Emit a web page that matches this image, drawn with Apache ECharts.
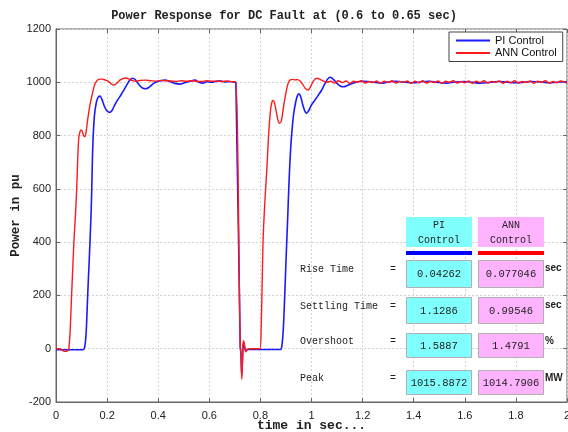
<!DOCTYPE html>
<html>
<head>
<meta charset="utf-8">
<script src="https://cdn.jsdelivr.net/npm/echarts@6/dist/echarts.min.js"></script>
<style>html,body{margin:0;padding:0;background:#fff;}#c{width:568px;height:432px;}</style>
</head>
<body>
<div id="c"></div>
<script>
// ---- data ----
var piTime = [0,0.02,0.05,0.08,0.105,0.112,0.118,0.124,0.129,0.133,0.137,0.14,0.144,0.15,0.158,0.166,0.172,0.18,0.19,0.2,0.211,0.22,0.23,0.24,0.25,0.26,0.27,0.28,0.29,0.3,0.31,0.32,0.33,0.34,0.352,0.365,0.38,0.394,0.41,0.427,0.445,0.465,0.485,0.505,0.525,0.544,0.56,0.575,0.59,0.61,0.625,0.64,0.66,0.68,0.7,0.704,0.721,0.724,0.727,0.73,0.733,0.737,0.743,0.75,0.78,0.82,0.85,0.878,0.884,0.89,0.896,0.901,0.906,0.911,0.916,0.922,0.93,0.938,0.945,0.951,0.958,0.966,0.974,0.981,0.99,1.0,1.014,1.027,1.04,1.05,1.06,1.072,1.085,1.1,1.112,1.125,1.14,1.152,1.164,1.18,1.2,1.22,1.25,1.28,1.3,1.33,1.36,1.4,1.43,1.46,1.5,1.53,1.56,1.6,1.63,1.66,1.7,1.73,1.76,1.8,1.83,1.86,1.9,1.93,1.96,2.0];
var piPower = [-4,-4,-4,-4,-4,5,60,200,310,400,500,600,760,870,925,945,948,935,908,892,887,895,915,932,946,962,978,995,1010,1015,1010,997,985,978,976,982,994,1002,1006,1008,1003,996,993,999,1004,1008,1000,997,1002,1000,1003,1006,1001,1003,1000,999,10,-20,-100,-40,20,10,-8,-3,-3,-3,-3,-3,10,80,220,350,470,600,709,800,880,925,950,957,945,915,892,884,895,915,934,952,971,990,1008,1019,1012,996,986,983,988,993,997,1002,1004,1003,999,997,1001,1004,1001,998,1002,1004,999,997,1001,1003,1000,997,1000,1003,1001,998,1000,1003,1001,998,1000,1002];

var annTime = [0,0.015,0.025,0.035,0.045,0.05,0.055,0.061,0.066,0.07,0.076,0.081,0.085,0.089,0.094,0.098,0.103,0.108,0.113,0.118,0.124,0.133,0.143,0.153,0.162,0.172,0.182,0.193,0.204,0.215,0.223,0.231,0.24,0.25,0.262,0.274,0.286,0.3,0.315,0.33,0.35,0.37,0.39,0.41,0.43,0.45,0.47,0.49,0.51,0.53,0.55,0.57,0.59,0.61,0.63,0.65,0.67,0.69,0.703,0.721,0.724,0.727,0.73,0.733,0.736,0.739,0.743,0.748,0.76,0.78,0.798,0.803,0.807,0.811,0.818,0.825,0.832,0.839,0.845,0.85,0.856,0.862,0.868,0.875,0.882,0.89,0.9,0.908,0.916,0.925,0.935,0.945,0.955,0.965,0.975,0.987,0.997,1.008,1.02,1.032,1.045,1.06,1.075,1.09,1.105,1.12,1.135,1.15,1.165,1.18,1.195,1.21,1.225,1.24,1.255,1.27,1.285,1.3,1.315,1.33,1.345,1.36,1.375,1.39,1.405,1.42,1.435,1.45,1.465,1.48,1.495,1.51,1.525,1.54,1.555,1.57,1.585,1.6,1.615,1.63,1.645,1.66,1.675,1.69,1.705,1.72,1.735,1.75,1.765,1.78,1.795,1.81,1.825,1.84,1.855,1.87,1.885,1.9,1.915,1.93,1.945,1.96,1.975,2.0];
var annPower = [0,0,-6,-10,-8,0,60,200,310,400,500,600,710,790,815,821,815,800,796,815,860,915,960,996,1008,1012,1012,1008,1004,995,990,991,998,1008,1014,1016,1012,1006,1004,1007,1008,1006,1004,1007,1006,1005,1003,1006,1004,1006,1004,1003,1006,1004,1005,1003,1005,1002,1002,10,-20,-115,-40,30,25,5,-12,-2,0,0,0,80,250,421,560,671,800,890,925,932,920,890,860,846,855,905,960,995,1009,1011,1009,1010,1005,993,978,971,985,1005,1015,1012,1005,1000,1004,997,1006,999,1005,996,1004,1000,1006,997,1003,999,1005,996,1004,999,1006,997,1003,1000,1005,996,1004,998,1006,997,1003,999,1005,996,1004,1000,1006,997,1003,998,1005,996,1004,999,1006,997,1003,1000,1005,996,1004,998,1006,997,1003,999,1005,996,1004,1000,1006,997,1003,998,1005,997,1002];

var xTicks = {min: 0, max: 2, step: 0.2};
var yTicks = {min: -200, max: 1200, step: 200};

var tableRows = ['Rise Time', 'Settling Time', 'Overshoot', 'Peak'];
var piValues = ['0.04262', '1.1286', '1.5887', '1015.8872'];
var annValues = ['0.077046', '0.99546', '1.4791', '1014.7906'];
var units = ['sec', 'sec', '%', 'MW'];
var headers = ['PI\nControl', 'ANN\nControl'];
var seriesNames = ['PI Control', 'ANN Control'];

function zip(a, b) { return a.map(function (v, i) { return [v, b[i]]; }); }

// ---- table graphic ----
var mono = '"Liberation Mono", "Courier New", monospace';
var colPI = {x: 406, w: 66, fill: '#80ffff'};
var colANN = {x: 478, w: 66, fill: '#ffb3ff'};
var rowBoxes = [{y: 260, h: 27}, {y: 297, h: 26}, {y: 333, h: 24}, {y: 370, h: 24}];
var g = [];
[colPI, colANN].forEach(function (c, i) {
  g.push({type: 'rect', z: 100, shape: {x: c.x, y: 217, width: c.w, height: 30}, style: {fill: c.fill}});
  g.push({type: 'text', z: 101, x: c.x + c.w / 2, y: 232.5, style: {text: headers[i], font: '10px ' + mono, fill: '#222', align: 'center', verticalAlign: 'middle', lineHeight: 15}});
  g.push({type: 'rect', z: 100, shape: {x: c.x, y: 251, width: c.w, height: 4}, style: {fill: i === 0 ? '#0000ff' : '#ff0000'}});
});
rowBoxes.forEach(function (r, k) {
  [colPI, colANN].forEach(function (c, i) {
    g.push({type: 'rect', z: 100, shape: {x: c.x + 0.5, y: r.y + 0.5, width: c.w - 1, height: r.h}, style: {fill: c.fill, stroke: '#b0b0b0', lineWidth: 1}});
    g.push({type: 'text', z: 101, x: c.x + c.w / 2, y: r.y + r.h / 2 + 1, style: {text: (i === 0 ? piValues : annValues)[k], font: '10.5px ' + mono, fill: '#222', align: 'center', verticalAlign: 'middle'}});
  });
  var cy = r.y + r.h / 2 - 4;
  g.push({type: 'text', z: 101, x: 300, y: cy, style: {text: tableRows[k], font: '10px ' + mono, fill: '#222', align: 'left', verticalAlign: 'middle'}});
  g.push({type: 'text', z: 101, x: 393, y: cy, style: {text: '=', font: '10px ' + mono, fill: '#222', align: 'center', verticalAlign: 'middle'}});
  g.push({type: 'text', z: 101, x: 545, y: r.y + 8, style: {text: units[k], font: 'bold 10px "Liberation Sans", Arial, sans-serif', fill: '#222', align: 'left', verticalAlign: 'middle'}});
});

var chart = echarts.init(document.getElementById('c'), null, {renderer: 'canvas'});
var axisTextStyle = {color: '#222', fontSize: 11, fontFamily: '"Liberation Sans", Arial, sans-serif'};
var plain = function (v) { return String(Math.round(v * 100) / 100); };
var option = {
  backgroundColor: '#fff',
  animation: false,
  title: {
    text: 'Power Response for DC Fault at (0.6 to 0.65 sec)',
    left: 'center', top: 10, padding: 0,
    textStyle: {fontFamily: mono, fontWeight: 'bold', fontSize: 12, color: '#222'}
  },
  legend: {
    data: seriesNames,
    orient: 'vertical',
    left: 449, top: 32,
    padding: [3, 6, 3, 6],
    itemWidth: 34, itemHeight: 12, itemGap: 1.5,
    itemStyle: {opacity: 0},
    borderColor: '#444', borderWidth: 1,
    backgroundColor: '#fff',
    textStyle: {fontSize: 11, color: '#111', fontFamily: '"Liberation Sans", Arial, sans-serif'}
  },
  grid: {left: 56, right: 1, top: 29, bottom: 30, show: true, borderColor: '#666', borderWidth: 1, containLabel: false, outerBoundsMode: 'none'},
  xAxis: [{
    type: 'value', min: xTicks.min, max: xTicks.max, interval: xTicks.step,
    name: 'time in sec...', nameLocation: 'middle', nameGap: 17, nameMoveOverlap: false,
    nameTextStyle: {fontFamily: mono, fontWeight: 'bold', fontSize: 13, color: '#222'},
    axisLine: {onZero: false, lineStyle: {color: '#666'}},
    axisTick: {inside: true, length: 4, lineStyle: {color: '#666'}},
    axisLabel: Object.assign({formatter: plain}, axisTextStyle),
    splitLine: {show: true, lineStyle: {color: '#d4d4d4', type: [2, 2]}}
  }, {
    type: 'value', position: 'top', min: xTicks.min, max: xTicks.max, interval: xTicks.step,
    axisLine: {show: false, onZero: false}, axisTick: {inside: true, length: 4, lineStyle: {color: '#666'}},
    axisLabel: {show: false}, splitLine: {show: false}
  }],
  yAxis: [{
    type: 'value', min: yTicks.min, max: yTicks.max, interval: yTicks.step,
    name: 'Power in pu', nameLocation: 'middle', nameGap: 34, nameMoveOverlap: false,
    nameTextStyle: {fontFamily: mono, fontWeight: 'bold', fontSize: 12.5, color: '#222'},
    axisLine: {show: true, onZero: false, lineStyle: {color: '#666'}},
    axisTick: {show: true, inside: true, length: 4, lineStyle: {color: '#666'}},
    axisLabel: Object.assign({margin: 5, formatter: plain}, axisTextStyle),
    splitLine: {show: true, lineStyle: {color: '#d4d4d4', type: [2, 2]}}
  }, {
    type: 'value', position: 'right', min: yTicks.min, max: yTicks.max, interval: yTicks.step,
    axisLine: {show: false, onZero: false}, axisTick: {show: true, inside: true, length: 4, lineStyle: {color: '#666'}},
    axisLabel: {show: false}, splitLine: {show: false}
  }],
  series: [{
    name: seriesNames[0], type: 'line', data: zip(piTime, piPower),
    symbol: 'none', smooth: 0.3, color: '#1a1aff',
    lineStyle: {width: 1.6, color: '#1a1aff'}
  }, {
    name: seriesNames[1], type: 'line', data: zip(annTime, annPower),
    symbol: 'none', smooth: 0.3, color: '#ff1a1a',
    lineStyle: {width: 1.4, color: '#ff1a1a'}
  }],
  graphic: g
};
chart.setOption(option);
</script>
</body>
</html>
